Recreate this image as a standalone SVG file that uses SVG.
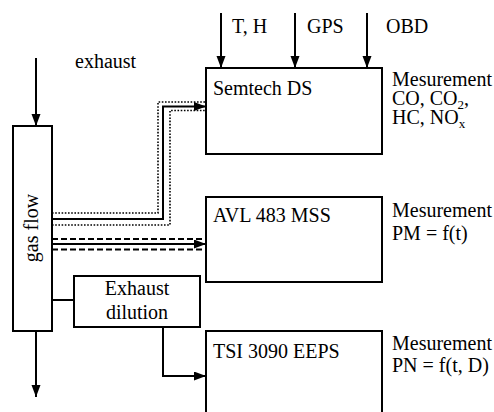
<svg xmlns="http://www.w3.org/2000/svg" width="494" height="412" viewBox="0 0 494 412">
<style>
.box{fill:#fff;stroke:#000;stroke-width:2}
.t{font-family:"Liberation Serif","Times New Roman",serif;font-size:20px;fill:#000}
.ln{fill:none;stroke:#000;stroke-width:2}
.dot{fill:none;stroke:#000;stroke-width:1.6;stroke-dasharray:1.6 1.6}
.dash{fill:none;stroke:#000;stroke-width:2;stroke-dasharray:6 3}
</style>
<defs>
<marker id="ah" markerUnits="userSpaceOnUse" markerWidth="13" markerHeight="10" refX="12" refY="4.5" orient="auto" viewBox="0 0 13 10">
<path d="M0,0 L12,4.5 L0,9 z" fill="#000"/>
</marker>
</defs>
<g id="connectors">
<path class="ln" d="M36,58 V126" marker-end="url(#ah)"/>
<path class="ln" d="M36,331 V397" marker-end="url(#ah)"/>
<path class="ln" d="M221,13 V68" marker-end="url(#ah)"/>
<path class="ln" d="M295,13 V68" marker-end="url(#ah)"/>
<path class="ln" d="M367,13 V68" marker-end="url(#ah)"/>
<path class="dot" d="M52,213 H158 V102 H206"/>
<path class="dot" d="M52,225 H170 V110.5 H206"/>
<path class="ln" d="M52,219 H163 V106.5 H206" marker-end="url(#ah)"/>
<path class="dash" d="M52,239 H206"/>
<path class="dash" d="M52,249.5 H206"/>
<path class="ln" d="M52,244 H206" marker-end="url(#ah)"/>
<path class="ln" d="M52,300 H74"/>
<path class="ln" d="M163,327 V376 H206" marker-end="url(#ah)"/>
</g>
<g id="labels">
<text class="t" x="75" y="68">exhaust</text>
<text class="t" x="232" y="33">T, H</text>
<text class="t" x="307" y="33">GPS</text>
<text class="t" x="386" y="33">OBD</text>
</g>
<g id="gasflow">
<rect class="box" x="13" y="126" width="39" height="205"/>
<text class="t" transform="translate(38,228) rotate(-90)" text-anchor="middle">gas flow</text>
</g>
<g id="semtech">
<rect class="box" x="206" y="68" width="176" height="86"/>
<text class="t" x="213" y="95">Semtech DS</text>
<text class="t" x="392" y="86">Mesurement</text>
<text class="t" x="392" y="105">CO, CO<tspan font-size="13" dy="4">2</tspan><tspan dy="-4">,</tspan></text>
<text class="t" x="392" y="124">HC, NO<tspan font-size="13" dy="4">x</tspan></text>
</g>
<g id="avl">
<rect class="box" x="206" y="197" width="176" height="85"/>
<text class="t" x="213" y="222">AVL 483 MSS</text>
<text class="t" x="392" y="217">Mesurement</text>
<text class="t" x="392" y="240">PM = f(t)</text>
</g>
<g id="dilution">
<rect class="box" x="74" y="276" width="126" height="51"/>
<text class="t" x="137" y="295" text-anchor="middle">Exhaust</text>
<text class="t" x="137" y="319" text-anchor="middle">dilution</text>
</g>
<g id="tsi">
<rect class="box" x="206" y="331" width="176" height="90"/>
<text class="t" x="213" y="358">TSI 3090 EEPS</text>
<text class="t" x="392" y="350">Mesurement</text>
<text class="t" x="392" y="372">PN = f(t, D)</text>
</g>
</svg>
